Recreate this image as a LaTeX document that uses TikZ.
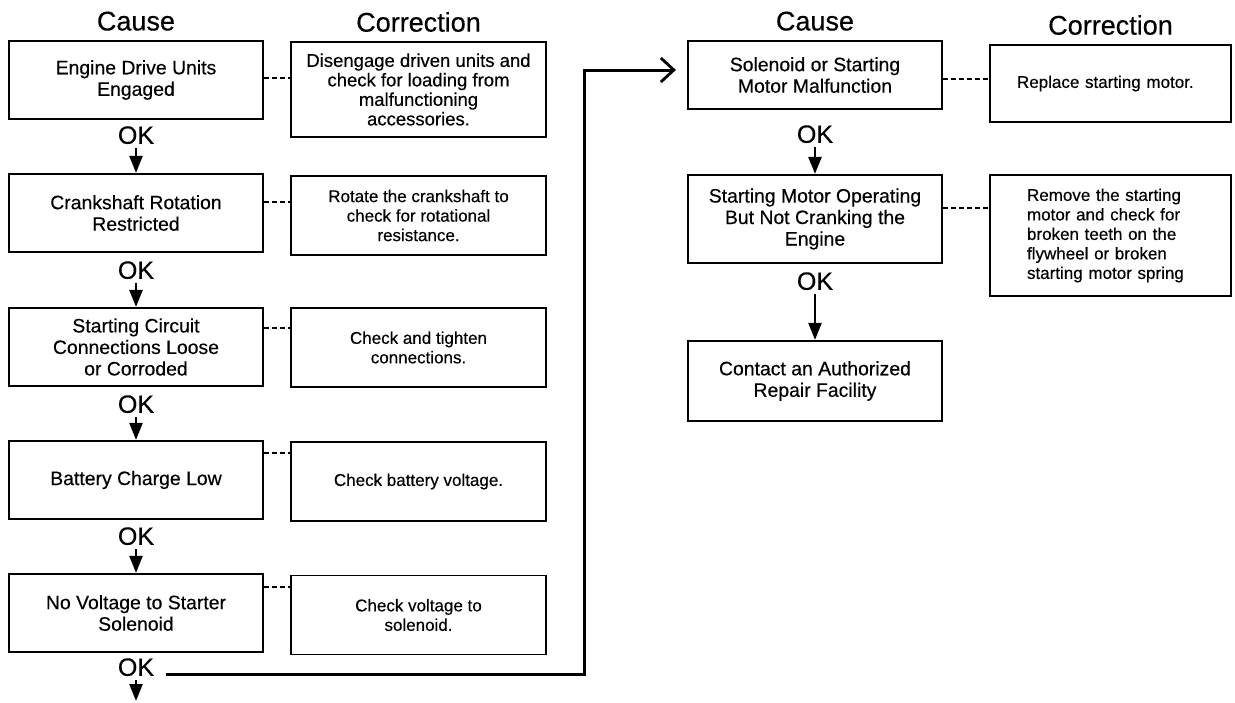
\documentclass[tikz,border=0pt]{standalone}
\usepackage{fontspec}
\setmainfont{Liberation Sans}[FakeBold=0.4]
\usetikzlibrary{positioning,arrows.meta}

\begin{document}
\begin{tikzpicture}[
		x=1pt,y=-1pt,
		every node/.style={inner sep=0pt},
		cause/.style={draw,line width=2.2pt,minimum width=254pt,minimum height=78pt,align=center,font=\fontsize{19.4}{21.5}\selectfont},
		fix/.style={draw,line width=1.8pt,minimum width=255pt,minimum height=79pt,align=center,font=\fontsize{17}{19.5}\selectfont},
		head/.style={font=\fontsize{27}{30}\selectfont,inner sep=1pt},
		oklabel/.style={font=\fontsize{25}{26}\selectfont,inner sep=2pt},
		link/.style={line width=1.8pt,dash pattern=on 5pt off 3pt},
		flow/.style={line width=2.4pt,shorten <=2pt,-{Triangle[length=17pt,width=13pt]}},
		jump/.style={line width=3pt,-{Straight Barb[length=13pt,width=24pt,line width=2.8pt]}}
		]
		\useasboundingbox (0,0) rectangle (1235,702);
		
		% left column: causes
		\node[cause] (c1) at (136,80) {Engine Drive Units\\Engaged};
		\node[cause] (c2) at (136,213) {Crankshaft Rotation\\Restricted};
		\node[cause] (c3) at (136,347) {Starting Circuit\\Connections Loose\\or Corroded};
		\node[cause] (c4) at (136,480) {Battery Charge Low};
		\node[cause] (c5) at (136,613) {No Voltage to Starter\\Solenoid};
		
		% left column: corrections
		\node[fix,minimum height=95pt,font=\fontsize{18.5}{19.5}\selectfont] (k1) at (418.5,89.5) {Disengage driven units and\\check for loading from\\malfunctioning\\accessories.};
		\node[fix] (k2) at (418.5,215.5) {Rotate the crankshaft to\\check for rotational\\resistance.};
		\node[fix] (k3) at (418.5,347.5) {Check and tighten\\connections.};
		\node[fix] (k4) at (418.5,481.5) {Check battery voltage.};
		\node[fix] (k5) at (418.5,615) {Check voltage to\\solenoid.};
		
		% right column
		\node[cause,minimum height=68pt] (r1) at (815,75) {Solenoid or Starting\\Motor Malfunction};
		\node[cause,minimum height=88pt] (r2) at (815,219) {Starting Motor Operating\\But Not Cranking the\\Engine};
		\node[cause,minimum height=80pt] (r3) at (815,381) {Contact an Authorized\\Repair Facility};
		
		\node[fix,minimum width=241pt,minimum height=77pt,align=left,text width=187pt] (q1) at (1110.5,83.5) {Replace starting motor.};
		\node[fix,minimum width=241pt,minimum height=121pt,align=left,text width=167pt] (q2) at (1110.5,235.5) {Remove the starting\\motor and check for\\broken teeth on the\\flywheel or broken\\starting motor spring};
		
		% headings
		\node[head,above=8pt of c1] (h1) {Cause};
		\node[head,above=8pt of k1] (h2) {Correction};
		\node[head,above=8pt of r1] (h3) {Cause};
		\node[head,above=8pt of q1] (h4) {Correction};
		
		% OK labels
		\node[oklabel,below=4pt of c1] (ok1) {OK};
		\node[oklabel,below=6pt of c2] (ok2) {OK};
		\node[oklabel,below=6pt of c3] (ok3) {OK};
		\node[oklabel,below=5pt of c4] (ok4) {OK};
		\node[oklabel,below=3pt of c5] (ok5) {OK};
		\node[oklabel,below=13pt of r1] (ok6) {OK};
		\node[oklabel,below=6pt of r2] (ok7) {OK};
		
		% OK arrows
		\draw[flow] (ok1.south) -- (c2.north);
		\draw[flow] (ok2.south) -- (c3.north);
		\draw[flow] (ok3.south) -- (c4.north);
		\draw[flow] (ok4.south) -- (c5.north);
		\coordinate (out) at (136,701);
		\draw[flow] (ok5.south) -- (out);
		\draw[flow] (ok6.south) -- (r2.north);
		\draw[flow] (ok7.south) -- (r3.north);
		
		% jump over to the second column
		\coordinate (into) at ([xshift=-11pt,yshift=5pt]r1.west);
		\draw[jump] ([xshift=10pt,yshift=-7pt]ok5.east) -- ++(418pt,0) |- (into);
		
		% dashed links cause -> correction
		\draw[link] ([yshift=-38pt]c1.north east) coordinate (d1) -- (d1 -| k1.west);
		\draw[link] ([yshift=-29pt]c2.north east) coordinate (d2) -- (d2 -| k2.west);
		\draw[link] ([yshift=-21pt]c3.north east) coordinate (d3) -- (d3 -| k3.west);
		\draw[link] ([yshift=-13pt]c4.north east) coordinate (d4) -- (d4 -| k4.west);
		\draw[link] ([yshift=-14pt]c5.north east) coordinate (d5) -- (d5 -| k5.west);
		\draw[link] ([yshift=-39pt]r1.north east) coordinate (d6) -- (d6 -| q1.west);
		\draw[link] ([yshift=-34pt]r2.north east) coordinate (d7) -- (d7 -| q2.west);
	\end{tikzpicture}
\end{document}
